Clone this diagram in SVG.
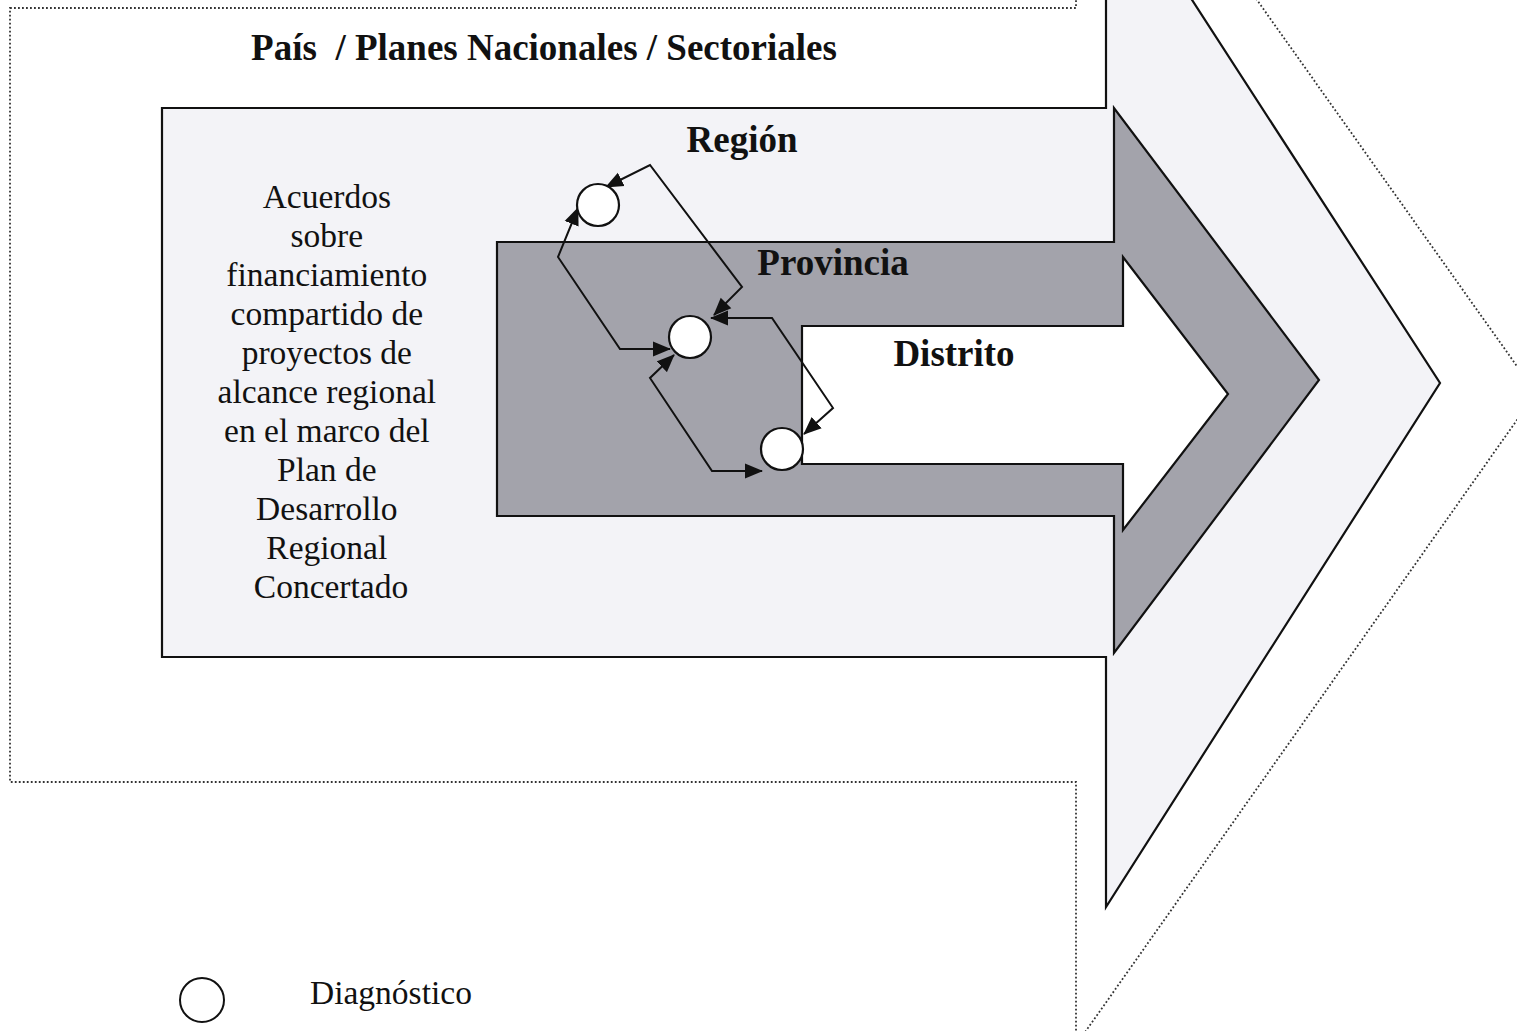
<svg xmlns="http://www.w3.org/2000/svg" width="1517" height="1031" viewBox="0 0 1517 1031">
<style>
.t{font-family:"Liberation Serif","Times New Roman",serif;fill:#111}
.b{font-weight:bold;font-size:37px}
.r{font-size:33.5px}
.c{fill:#fff;stroke:#111;stroke-width:2.2}
.ln{fill:none;stroke:#111;stroke-width:2;marker-start:url(#ah);marker-end:url(#ah)}
</style>
<defs>
<marker id="ah" markerUnits="userSpaceOnUse" markerWidth="20" markerHeight="16" refX="17" refY="8" orient="auto-start-reverse">
<path d="M0,0.5 L18,8 L0,15.5 Z" fill="#111"/>
</marker>
</defs>
<rect width="1517" height="1031" fill="#fff"/>
<g id="pais">
<path d="M10,8 H1076 V-255 L1536,393 L1076,1045 V782 H10 Z" fill="#fff" stroke="#333" stroke-width="1.8" stroke-dasharray="1.8 2.2"/>
<text class="t b" x="544" y="60" text-anchor="middle" xml:space="preserve" style="white-space:pre">País  / Planes Nacionales / Sectoriales</text>
</g>
<g id="region">
<path d="M162,108 H1106 V-133 L1440,383 L1106,907 V657 H162 Z" fill="#f3f3f7" stroke="#111" stroke-width="2.2"/>
<text class="t b" x="742" y="152" text-anchor="middle">Región</text>
<text class="t r" text-anchor="middle">
<tspan x="331" y="208">Acuerdos</tspan>
<tspan x="331" y="247">sobre</tspan>
<tspan x="331" y="286">financiamiento</tspan>
<tspan x="331" y="325">compartido de</tspan>
<tspan x="331" y="364">proyectos de</tspan>
<tspan x="331" y="403">alcance regional</tspan>
<tspan x="331" y="442">en el marco del</tspan>
<tspan x="331" y="481">Plan de</tspan>
<tspan x="331" y="520">Desarrollo</tspan>
<tspan x="331" y="559">Regional</tspan>
<tspan x="331" y="598">Concertado</tspan>
</text>
</g>
<g id="provincia">
<path d="M497,242 H1114 V108 L1319,380 L1114,653 V516 H497 Z" fill="#a3a3ab" stroke="#111" stroke-width="2.2"/>
<text class="t b" x="833" y="275" text-anchor="middle">Provincia</text>
</g>
<g id="distrito">
<path d="M802,326 H1123 V257 L1228,394 L1123,530 V464 H802 Z" fill="#fff" stroke="#111" stroke-width="2.2"/>
<text class="t b" x="954" y="366" text-anchor="middle">Distrito</text>
</g>
<g id="connectors">
<polyline class="ln" points="606,187 650,165 742,287 714,315"/>
<polyline class="ln" points="578,208 558,257 620,349 670,349"/>
<polyline class="ln" points="674,355 650,378 712,471 762,471"/>
<polyline class="ln" points="711,318 772,318 833,408 804,434"/>
</g>
<g id="diag-region"><circle class="c" cx="598" cy="205" r="21"/></g>
<g id="diag-provincia"><circle class="c" cx="690" cy="337" r="21"/></g>
<g id="diag-distrito"><circle class="c" cx="782" cy="449" r="21"/></g>
<g id="legend">
<circle cx="202" cy="1000" r="22" fill="#fff" stroke="#111" stroke-width="2"/>
<text class="t r" x="310" y="1004">Diagnóstico</text>
</g>
</svg>
